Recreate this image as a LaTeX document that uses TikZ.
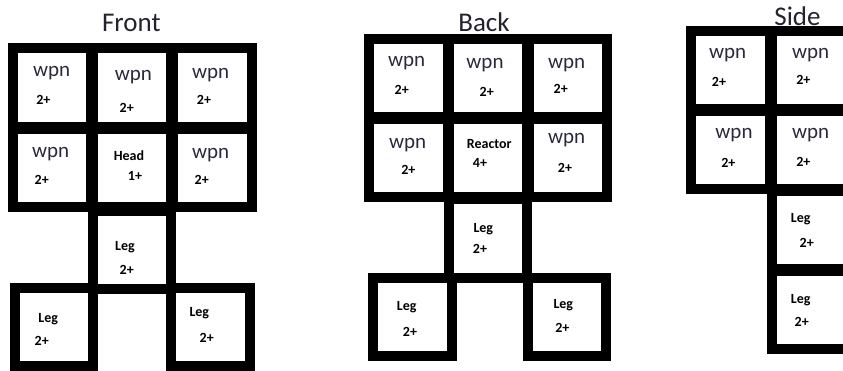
\documentclass[tikz,border=0pt]{standalone}
\usepackage{fontspec}
\setmainfont{Carlito}
\definecolor{titlegray}{RGB}{35,35,45}
\definecolor{wpngray}{RGB}{45,40,60}
\tikzset{
  cell/.style={draw=black, fill=white, line width=10pt, minimum width=78.3pt, minimum height=78.3pt, inner sep=0pt},
  ttl/.style={font=\fontsize{27}{27}\selectfont, text=titlegray, inner sep=0pt},
  big/.style={font=\fontsize{21}{21}\selectfont, text=wpngray, inner sep=0pt},
  sml/.style={font=\bfseries\fontsize{14}{14}\selectfont, text=black, inner sep=0pt}
}
\begin{document}
\begin{tikzpicture}[x=1pt,y=-1pt]
\useasboundingbox (0,0) rectangle (843,370);
\fill[white] (0,0) rectangle (843,370);
% ---------- Front ----------
\node[ttl] (tfront) at (131.3,23.3) {Front};
\node[cell] (f11) at (51.9,87.5) {};
\node[cell] (f12) at (131.9,87.5) {};
\node[cell] (f13) at (212.5,87.5) {};
\node[cell] (f21) at (51.9,168.2) {};
\node[cell] (f22) at (131.9,168.2) {};
\node[cell] (f23) at (212.5,168.2) {};
\node[cell] (fl) at (131.9,250.2) {};
\node[cell] (fbl) at (53.9,326.7) {};
\node[cell] (fbr) at (210.4,326.7) {};
\node[big] (f11a) at (51.7,73.3) {wpn};
\node[sml] (f11b) at (43.3,100) {2+};
\node[big] (f12a) at (133.3,77.3) {wpn};
\node[sml] (f12b) at (126.7,108.3) {2+};
\node[big] (f13a) at (210.7,75) {wpn};
\node[sml] (f13b) at (204,100) {2+};
\node[big] (f21a) at (50.7,154) {wpn};
\node[sml] (f21b) at (41.7,180) {2+};
\node[sml] (f22a) at (129,155.7) {Head};
\node[sml] (f22b) at (135,176) {1+};
\node[big] (f23a) at (210.7,155) {wpn};
\node[sml] (f23b) at (201.7,180) {2+};
\node[sml] (fla) at (125,246.7) {Leg};
\node[sml] (flb) at (126.7,270) {2+};
\node[sml] (fbla) at (48.3,319.3) {Leg};
\node[sml] (fblb) at (41.7,340.7) {2+};
\node[sml] (fbra) at (199.3,313.3) {Leg};
\node[sml] (fbrb) at (206.7,338.3) {2+};
% ---------- Back ----------
\node[ttl] (tback) at (484,22.5) {Back};
\node[cell] (b11) at (408.5,77.8) {};
\node[cell] (b12) at (488.3,77.8) {};
\node[cell] (b13) at (568.3,77.8) {};
\node[cell] (b21) at (408.5,158.3) {};
\node[cell] (b22) at (488.3,158.3) {};
\node[cell] (b23) at (568.3,158.3) {};
\node[cell] (bl) at (488.3,238.5) {};
\node[cell] (bbl) at (412.5,316.7) {};
\node[cell] (bbr) at (566.7,316.7) {};
\node[big] (b11a) at (406.7,63.3) {wpn};
\node[sml] (b11b) at (401.7,90) {2+};
\node[big] (b12a) at (485,65) {wpn};
\node[sml] (b12b) at (486.7,91.7) {2+};
\node[big] (b13a) at (566.7,65) {wpn};
\node[sml] (b13b) at (560.7,89.3) {2+};
\node[big] (b21a) at (407.7,145) {wpn};
\node[sml] (b21b) at (408.3,170) {2+};
\node[sml] (b22a) at (489.3,144) {Reactor};
\node[sml] (b22b) at (480,163.3) {4+};
\node[big] (b23a) at (566.7,140) {wpn};
\node[sml] (b23b) at (565,168.3) {2+};
\node[sml] (bla) at (483.3,229.3) {Leg};
\node[sml] (blb) at (480,249.3) {2+};
\node[sml] (bbla) at (406.7,306.7) {Leg};
\node[sml] (bblb) at (410,331.7) {2+};
\node[sml] (bbra) at (563.3,305) {Leg};
\node[sml] (bbrb) at (562.3,328.3) {2+};
% ---------- Side ----------
\node[ttl] (tside) at (797.5,15.8) {Side};
\node[cell] (s11) at (730.5,69.7) {};
\node[cell] (s12) at (810.85,69.7) {};
\node[cell] (s21) at (730.5,150) {};
\node[cell] (s22) at (810.85,150) {};
\node[cell] (sl1) at (810.85,230) {};
\node[cell] (sl2) at (810.85,310) {};
\node[big] (s11a) at (727.7,55) {wpn};
\node[sml] (s11b) at (719,81.7) {2+};
\node[big] (s12a) at (810.7,55) {wpn};
\node[sml] (s12b) at (803.3,80) {2+};
\node[big] (s21a) at (734,135) {wpn};
\node[sml] (s21b) at (728.3,163.3) {2+};
\node[big] (s22a) at (810.7,135) {wpn};
\node[sml] (s22b) at (803.3,161.7) {2+};
\node[sml] (sl1a) at (800.7,219.3) {Leg};
\node[sml] (sl1b) at (806.7,243.3) {2+};
\node[sml] (sl2a) at (800.7,300) {Leg};
\node[sml] (sl2b) at (801.7,321.7) {2+};
\end{tikzpicture}
\end{document}
